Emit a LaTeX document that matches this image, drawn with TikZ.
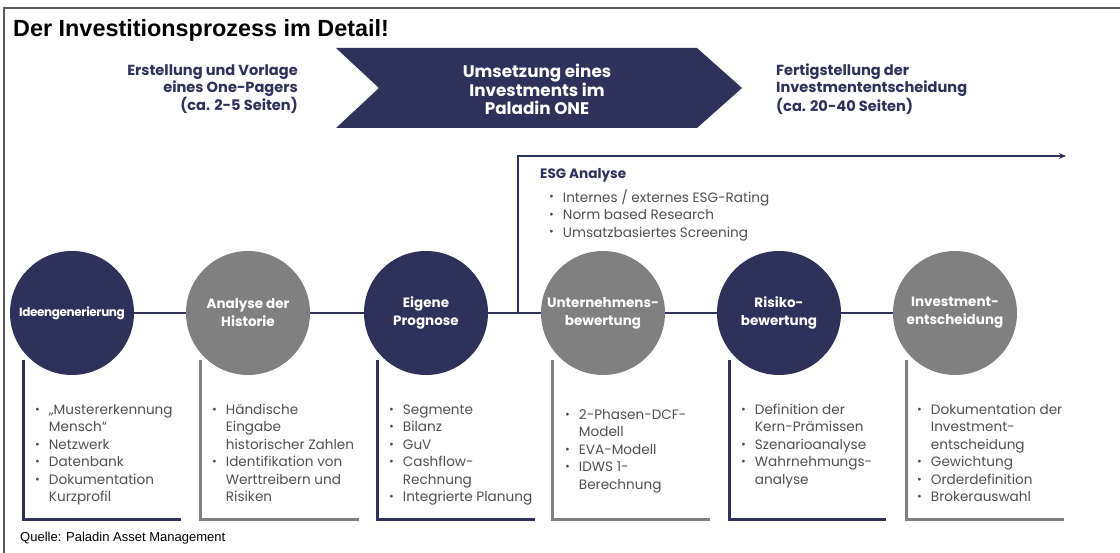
\documentclass[tikz,border=0pt]{standalone}
\usepackage{fontspec}
\usetikzlibrary{arrows.meta}
\newfontfamily\arialf{Liberation Sans}
\newfontfamily\popf{Poppins}

\definecolor{navy}{HTML}{2E3159}
\definecolor{stepgray}{HTML}{808080}
\definecolor{bodygray}{HTML}{505050}
\definecolor{framegray}{HTML}{5A5A5A}

\tikzset{
  titletext/.style={anchor=base west, inner sep=0pt, font=\arialf\bfseries\fontsize{23.4}{27}\selectfont},
  sourcetext/.style={anchor=base west, inner sep=0pt, font=\arialf\fontsize{13}{15}\selectfont},
  headtext/.style={inner sep=0pt, text=navy, font=\popf\bfseries\fontsize{14.6}{17.2}\selectfont},
  bannertext/.style={inner sep=0pt, text=white, align=center, font=\popf\bfseries\fontsize{16.8}{17.8}\selectfont},
  stepcircle/.style={circle, minimum size=124pt, inner sep=0pt, text=white, align=center,
                     font=\popf\bfseries\fontsize{13.5}{18}\selectfont},
  navystep/.style={stepcircle, fill=navy},
  graystep/.style={stepcircle, fill=stepgray},
  bracketline/.style={line width=3pt},
  listtext/.style={anchor=north west, inner sep=0pt, text=bodygray,
                   font=\popf\fontsize{13.6}{17.5}\selectfont},
  flowline/.style={navy, line width=2.2pt},
}

% small round list marker
\newcommand{\bul}{{\fontsize{11.5}{11.5}\selectfont\raisebox{1.2pt}{\textbullet}}}
\newenvironment{steplist}{\begin{tabular}{@{}l@{\hspace{9pt}}l@{}}}{\end{tabular}}

\begin{document}
\begin{tikzpicture}[x=1pt, y=-1pt]
  \useasboundingbox (0,0) rectangle (1120,553);
  \fill[white] (0,0) rectangle (1120,553);

  % frame along top and left edge
  \coordinate (frameTL) at (4,8);
  \coordinate (frameTR) at (1120,8);
  \coordinate (frameBL) at (4,553);
  \draw[framegray, line width=1.6pt] (frameBL) -- (frameTL) -- (frameTR);

  % heading
  \node[titletext] (title) at (13,37) {Der Investitionsprozess im Detail!};

  % phase banner
  \fill[navy] (336,48) -- (697,48) -- (742,88) -- (697,128) -- (336,128) -- (379,88) -- cycle;
  \node[bannertext] (banner) at (537,89) {Umsetzung eines\\Investments im\\Paladin ONE};
  \node[headtext, anchor=east, align=right] (before) at (298,89)
    {Erstellung und Vorlage\\eines One-Pagers\\(ca. 2-5 Seiten)};
  \node[headtext, anchor=west, align=left] (after) at (776,89)
    {Fertigstellung der\\Investmententscheidung\\(ca. 20-40 Seiten)};

  % brackets below the steps
  \coordinate (b1a) at (23,360);  \coordinate (b1b) at (181,519);
  \coordinate (b2a) at (200,360); \coordinate (b2b) at (359,519);
  \coordinate (b3a) at (377,360); \coordinate (b3b) at (535,519);
  \coordinate (b4a) at (552,360); \coordinate (b4b) at (710,519);
  \coordinate (b5a) at (729,360); \coordinate (b5b) at (886,519);
  \coordinate (b6a) at (906,360); \coordinate (b6b) at (1064,519);
  \draw[bracketline, navy]     (b1a) |- (b1b);
  \draw[bracketline, stepgray] (b2a) |- (b2b);
  \draw[bracketline, navy]     (b3a) |- (b3b);
  \draw[bracketline, stepgray] (b4a) |- (b4b);
  \draw[bracketline, navy]     (b5a) |- (b5b);
  \draw[bracketline, stepgray] (b6a) |- (b6b);

  % ESG branch
  \coordinate (esgbase) at (518,313);
  \coordinate (esgtop) at (518,156);
  \coordinate (esgend) at (1066,156);
  \draw[flowline, -{Stealth[length=7pt, width=6pt]}] (esgbase) -- (esgtop) -- (esgend);

  % process steps
  \node[navystep] (c1) at (72,313) {\fontsize{12}{18}\selectfont\addfontfeature{LetterSpace=-3}Ideengenerierung};
  \node[graystep] (c2) at (248,313) {Analyse der\\Historie};
  \node[navystep] (c3) at (426,313) {Eigene\\Prognose};
  \node[graystep] (c4) at (603,313) {Unternehmens-\\bewertung};
  \node[navystep] (c5) at (779,313) {Risiko-\\bewertung};
  \node[graystep] (c6) at (955,313) {Investment-\\entscheidung};

  \draw[flowline] (c1) -- (c2);
  \draw[flowline] (c2) -- (c3);
  \draw[flowline] (c3) -- (c4);
  \draw[flowline] (c4) -- (c5);
  \draw[flowline] (c5) -- (c6);

  % ESG content
  \node[anchor=base west, inner sep=0pt, text=navy, font=\popf\bfseries\fontsize{13.6}{16}\selectfont]
    (esghead) at (540,179) {ESG Analyse};
  \node[listtext] (esglist) at (549,189) {\begin{steplist}
    \bul & Internes / externes ESG-Rating\\
    \bul & Norm based Research\\
    \bul & Umsatzbasiertes Screening
  \end{steplist}};

  % step details
  \node[listtext] (l1) at (35,402) {\begin{steplist}
    \bul & „Mustererkennung\\
         & Mensch“\\
    \bul & Netzwerk\\
    \bul & Datenbank\\
    \bul & Dokumentation\\
         & Kurzprofil
  \end{steplist}};
  \node[listtext] (l2) at (212,402) {\begin{steplist}
    \bul & Händische\\
         & Eingabe\\
         & historischer Zahlen\\
    \bul & Identifikation von\\
         & Werttreibern und\\
         & Risiken
  \end{steplist}};
  \node[listtext] (l3) at (389,402) {\begin{steplist}
    \bul & Segmente\\
    \bul & Bilanz\\
    \bul & GuV\\
    \bul & Cashflow-\\
         & Rechnung\\
    \bul & Integrierte Planung
  \end{steplist}};
  \node[listtext] (l4) at (565,407) {\begin{steplist}
    \bul & 2-Phasen-DCF-\\
         & Modell\\
    \bul & EVA-Modell\\
    \bul & IDWS 1-\\
         & Berechnung
  \end{steplist}};
  \node[listtext] (l5) at (741,402) {\begin{steplist}
    \bul & Definition der\\
         & Kern-Prämissen\\
    \bul & Szenarioanalyse\\
    \bul & Wahrnehmungs-\\
         & analyse
  \end{steplist}};
  \node[listtext] (l6) at (917,402) {\begin{steplist}
    \bul & Dokumentation der\\
         & Investment-\\
         & entscheidung\\
    \bul & Gewichtung\\
    \bul & Orderdefinition\\
    \bul & Brokerauswahl
  \end{steplist}};

  % source line
  \node[sourcetext] (source) at (20,541) {Quelle: Paladin Asset Management};
\end{tikzpicture}
\end{document}
